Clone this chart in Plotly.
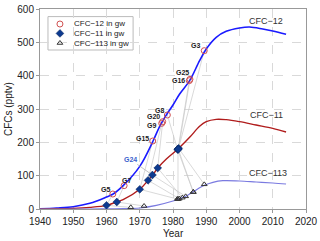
import plotly.graph_objects as go

# Atmospheric histories (pptv)
yr12 = [1940, 1945, 1950, 1955, 1960, 1962, 1965, 1970, 1974, 1976, 1978, 1980, 1982, 1985, 1988, 1990, 1993, 1996, 2000, 2003, 2007, 2010, 2014]
cfc12 = [0.5, 3, 7, 17, 36, 45, 70, 128, 204, 248, 282, 312, 345, 385, 445, 480, 515, 533, 543, 546, 540, 534, 524]

yr11 = [1940, 1945, 1950, 1955, 1960, 1963, 1965, 1970, 1972.5, 1974, 1975.4, 1978, 1981.5, 1985, 1988, 1990, 1993, 1996, 2000, 2005, 2010, 2014]
cfc11 = [0, 1, 2, 5, 11, 21, 28, 59, 86, 103, 123, 150, 180, 215, 248, 262, 269, 268, 262, 252, 242, 231]

yr113 = [1940, 1955, 1960, 1965, 1970, 1975, 1980, 1982, 1984, 1986, 1989.4, 1992, 1995, 2000, 2005, 2010, 2014]
cfc113 = [0, 0, 0.3, 1, 3, 11, 24, 31, 39, 51, 71, 80, 85, 84, 81, 78, 75]

# Groundwater samples (apparent dates)
wells = ["G5", "G7", "G15", "G9", "G20", "G24", "G8", "G16", "G25", "G3"]
gw12_x = [1961.9, 1965.3, 1973.9, 1976.6, 1976.9, None, 1978.3, 1984.9, 1985.1, 1989.4]
gw12_y = [45, 70, 204, 257, 262, None, 282, 385, 389, 475]
gw11_x = [1960.0, 1963.1, 1970.0, 1972.5, 1975.4, 1973.8, 1981.4, 1981.5, 1981.7, 1981.6]
gw11_y = [11, 21, 59, 86, 123, 102, 178, 180, 182, 179]
gw113_x = [1967.3, 1971.3, 1981.3, 1981.9, 1982.8, 1983.8, 1986.1, 1981.5, 1989.4, 1986.1]
gw113_y = [5, 9, 30, 31, 34, 38, 51, 30, 74, 51]

# Well label positions
lab_x = [1959.6, 1966.1, 1970.9, 1973.6, 1974.1, 1967.1, 1975.9, 1981.6, 1982.8, 1986.9]
lab_y = [60, 85, 213, 252, 277, 149, 295, 385, 409, 490]

# Curve labels
curve_names = ["CFC−12", "CFC−11", "CFC−113"]
curve_lab_x = [2008.0, 2008.0, 2008.7]
curve_lab_y = [565, 283, 109]

# Legend entries
legend_names = ["CFC−12 in gw", "CFC−11 in gw", "CFC−113 in gw"]

FONT = "Liberation Sans"
fig = go.Figure()

# connecting grey lines
for i in range(len(wells)):
    xs, ys = [], []
    if gw12_x[i] is not None:
        xs.append(gw12_x[i]); ys.append(gw12_y[i])
    xs += [gw11_x[i], gw113_x[i]]
    ys += [gw11_y[i], gw113_y[i]]
    fig.add_trace(go.Scatter(x=xs, y=ys, mode="lines",
                             line=dict(color="#c8c8c8", width=0.7),
                             showlegend=False, hoverinfo="skip"))

fig.add_trace(go.Scatter(x=yr12, y=cfc12, mode="lines", line=dict(color="#1a1aff", width=1.6, shape="spline"), showlegend=False))
fig.add_trace(go.Scatter(x=yr11, y=cfc11, mode="lines", line=dict(color="#b01c1c", width=1.4, shape="spline"), showlegend=False))
fig.add_trace(go.Scatter(x=yr113, y=cfc113, mode="lines", line=dict(color="#7a7ae0", width=1.2, shape="spline"), showlegend=False))

m12 = dict(symbol="circle-open", size=6, color="#d05050", line=dict(width=1))
m11 = dict(symbol="diamond", size=6, color="#0d3a8f", line=dict(width=0.5, color="#08245a"))
m113 = dict(symbol="triangle-up-open", size=5, color="#333333", line=dict(width=1))

fig.add_trace(go.Scatter(x=[v for v in gw12_x if v is not None], y=[v for v in gw12_y if v is not None],
                         mode="markers", name=legend_names[0], marker=m12, showlegend=False))
fig.add_trace(go.Scatter(x=gw11_x, y=gw11_y, mode="markers", name=legend_names[1], marker=m11, showlegend=False))
fig.add_trace(go.Scatter(x=gw113_x, y=gw113_y, mode="markers", name=legend_names[2], marker=m113, showlegend=False))

# compact custom legend (overlay axes spanning the plot area in 0..1 units)
leg_rows = [0.925, 0.878, 0.83]
fig.add_shape(type="rect", xref="paper", yref="paper", x0=0.03, x1=0.35, y0=0.795, y1=0.962,
              line=dict(color="#bbbbbb", width=1), fillcolor="white", layer="between")
for r, m, n in zip(leg_rows, [m12, m11, m113], legend_names):
    fig.add_trace(go.Scatter(x=[0.075], y=[r], xaxis="x2", yaxis="y2", mode="markers",
                             marker=m, showlegend=False, hoverinfo="skip"))
    fig.add_annotation(x=0.122, y=r, xref="paper", yref="paper", text=n, showarrow=False,
                       xanchor="left", yanchor="middle",
                       font=dict(size=8, color="#222222", family=FONT))

for i, w in enumerate(wells):
    if w == "G24":
        fig.add_annotation(x=gw11_x[i], y=gw11_y[i], ax=lab_x[i], ay=lab_y[i], axref="x", ayref="y",
                           text="<b>" + w + "</b>", showarrow=True, arrowhead=0, arrowwidth=0.7,
                           arrowcolor="#aaaaaa", standoff=3,
                           font=dict(size=7, color="#3a5fcd", family=FONT))
    else:
        fig.add_annotation(x=lab_x[i], y=lab_y[i], text="<b>" + w + "</b>", showarrow=False,
                           font=dict(size=7, color="#222222", family=FONT))

for n, x, y in zip(curve_names, curve_lab_x, curve_lab_y):
    fig.add_annotation(x=x, y=y, text=n, showarrow=False,
                       font=dict(size=9, color="#333333", family=FONT))

# axis titles as paper annotations
fig.add_annotation(x=-0.12, y=0.5, xref="paper", yref="paper", text="CFCs (pptv)", textangle=-90,
                   showarrow=False, xanchor="center", yanchor="middle",
                   font=dict(size=10, color="#222222", family=FONT))
fig.add_annotation(x=0.5, y=-0.085, xref="paper", yref="paper", text="Year",
                   showarrow=False, xanchor="center", yanchor="top",
                   font=dict(size=10, color="#222222", family=FONT))

axis_common = dict(showline=True, linecolor="#999999", linewidth=1, mirror=True,
                   showgrid=True, gridcolor="#d9d9d9", griddash="dash", gridwidth=1,
                   ticks="outside", ticklen=3, tickcolor="#999999", zeroline=False,
                   automargin=False,
                   tickfont=dict(size=10, color="#222222", family=FONT))

hidden = dict(range=[0, 1], visible=False, showgrid=False, zeroline=False, automargin=False)

fig.update_layout(
    width=320, height=241,
    margin=dict(l=40, r=14, t=9, b=32),
    plot_bgcolor="white", paper_bgcolor="white",
    xaxis=dict(range=[1940, 2020], dtick=10, **axis_common),
    yaxis=dict(range=[0, 600], dtick=100, **axis_common),
    xaxis2=dict(overlaying="x", anchor="y2", **hidden),
    yaxis2=dict(overlaying="y", anchor="x2", **hidden),
    showlegend=False,
)

fig.write_html("out.html", config={"displayModeBar": False},
               post_script="document.body.style.margin='0';")
